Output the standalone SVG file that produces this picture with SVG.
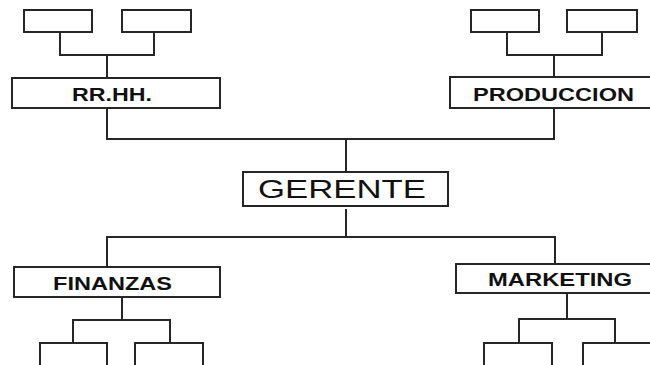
<svg xmlns="http://www.w3.org/2000/svg" width="650" height="365" viewBox="0 0 650 365">
<style>
rect{fill:#fff;stroke:#262626;stroke-width:2}
.c path{fill:none;stroke:#262626;stroke-width:2}
.t{font-family:"Liberation Sans",Arial,sans-serif;font-weight:bold;font-size:18.5px;fill:#111}
.g{font-family:"Liberation Sans",Arial,sans-serif;font-size:25px;fill:#111}
</style>
<rect x="0" y="0" width="650" height="365" style="stroke:none"/>
<g class="c" id="connectors">
<path d="M60 32V55H154V32M107 55V78"/>
<path d="M507 32V55H602V32M554 55V77"/>
<path d="M107 108V139H554V108M346 139V172"/>
<path d="M346 209V237M107 267V237H555V264"/>
<path d="M122 297V320M73 343V320H170V343"/>
<path d="M567 293V319M519 343V319H615V343"/>
</g>
<g id="rrhh-sub1"><rect x="24" y="10" width="68" height="22"/></g>
<g id="rrhh-sub2"><rect x="122" y="10" width="69" height="22"/></g>
<g id="prod-sub1"><rect x="471" y="10" width="68" height="22"/></g>
<g id="prod-sub2"><rect x="567" y="10" width="70" height="22"/></g>
<g id="rrhh"><rect x="12" y="78" width="208" height="30"/><text class="t" x="72" y="100.5" textLength="80" lengthAdjust="spacingAndGlyphs">RR.HH.</text></g>
<g id="produccion"><rect x="450" y="77" width="212" height="31"/><text class="t" x="473" y="100.5" textLength="161" lengthAdjust="spacingAndGlyphs">PRODUCCION</text></g>
<g id="gerente"><rect x="243" y="172" width="205" height="34"/><text class="g" x="258" y="198" textLength="168" lengthAdjust="spacingAndGlyphs">GERENTE</text></g>
<g id="finanzas"><rect x="14" y="267" width="206" height="30"/><text class="t" x="53" y="290" textLength="119" lengthAdjust="spacingAndGlyphs">FINANZAS</text></g>
<g id="marketing"><rect x="456" y="264" width="206" height="29"/><text class="t" x="488" y="285.5" textLength="144" lengthAdjust="spacingAndGlyphs">MARKETING</text></g>
<g id="fin-sub1"><rect x="40" y="343" width="67" height="30"/></g>
<g id="fin-sub2"><rect x="135" y="343" width="68" height="30"/></g>
<g id="mkt-sub1"><rect x="484" y="343" width="68" height="30"/></g>
<g id="mkt-sub2"><rect x="583" y="343" width="80" height="30"/></g>
</svg>
